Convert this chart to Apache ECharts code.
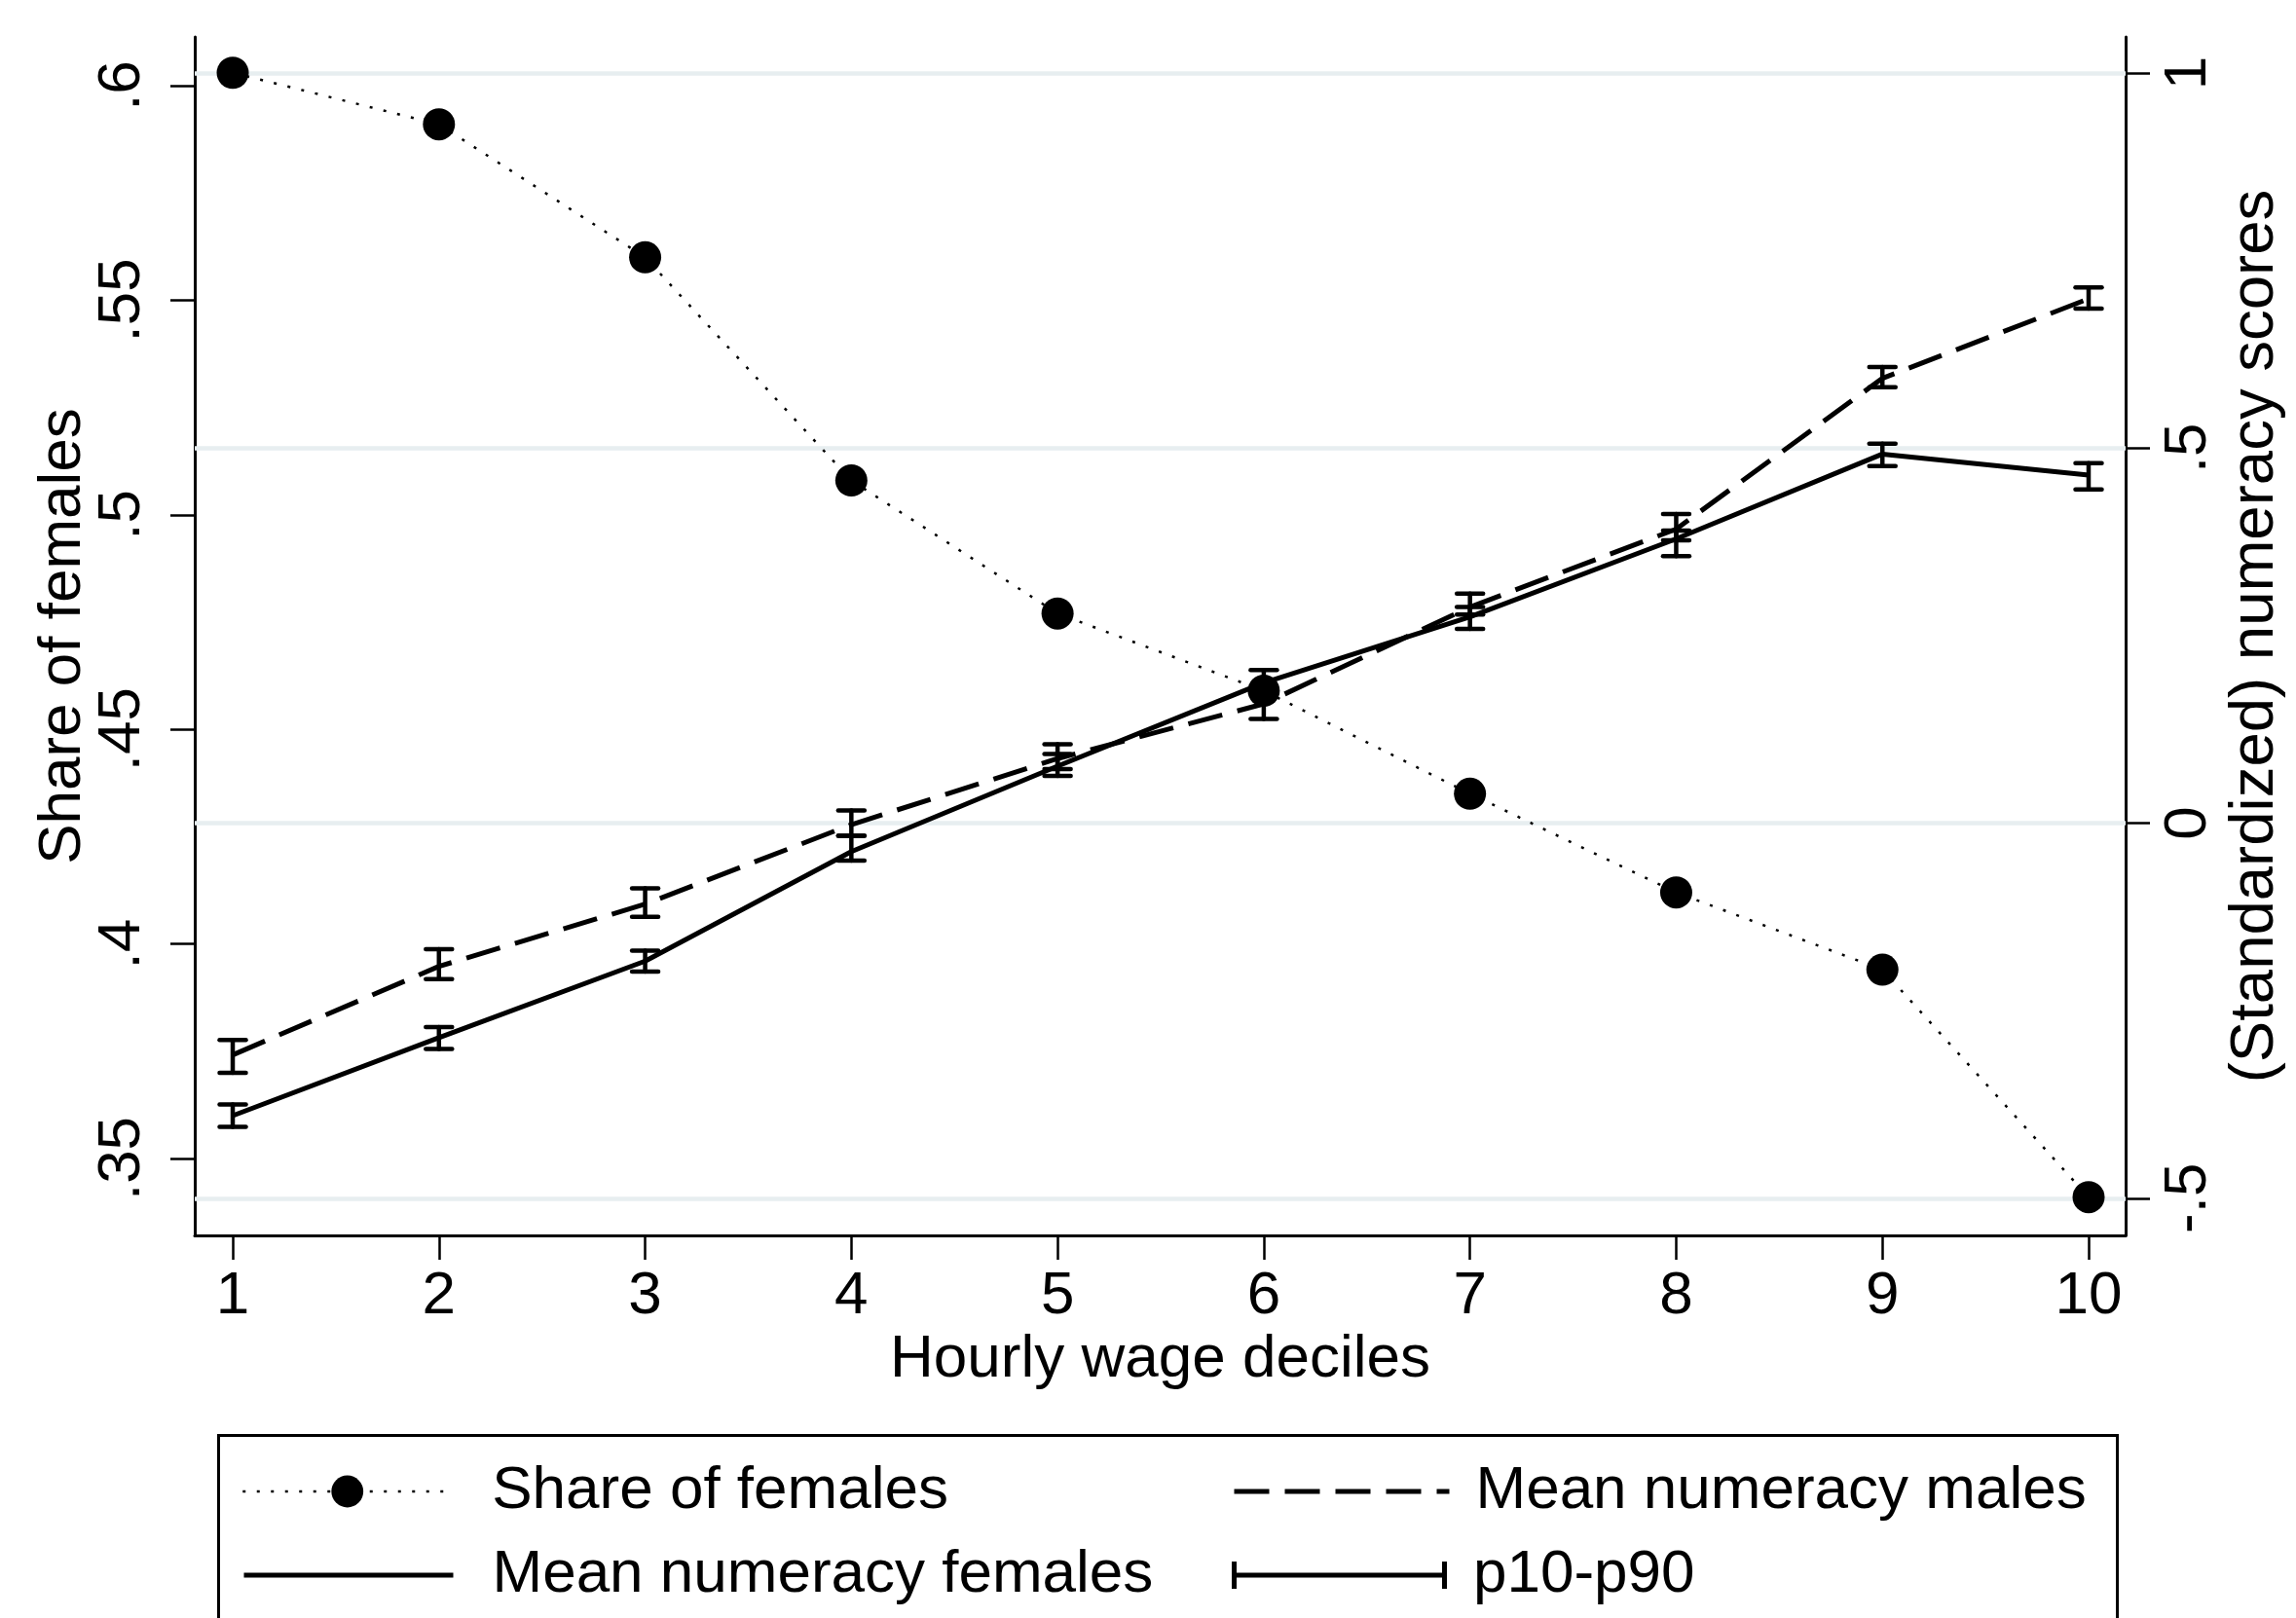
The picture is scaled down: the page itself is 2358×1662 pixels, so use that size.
<!DOCTYPE html>
<html>
<head>
<meta charset="utf-8">
<script src="https://cdn.jsdelivr.net/npm/echarts@6/dist/echarts.min.js"></script>
<style>
  html, body { margin: 0; padding: 0; background: #fff; }
  #chart { width: 2358px; height: 1662px; }
</style>
</head>
<body>
<div id="chart"></div>
<script>
// Hourly wage deciles
const deciles = [1, 2, 3, 4, 5, 6, 7, 8, 9, 10];

// Share of females in each decile (left axis)
const shareFemales = [0.603, 0.591, 0.560, 0.508, 0.477, 0.459, 0.435, 0.412, 0.394, 0.341];

// Standardized numeracy scores (right axis): means and p10/p90 bands
const femMean = [-0.390, -0.286, -0.184, -0.038, 0.076, 0.187, 0.275, 0.379, 0.492, 0.464];
const femP10  = [-0.405, -0.301, -0.198, -0.050, 0.063, 0.173, 0.259, 0.356, 0.476, 0.445];
const femP90  = [-0.375, -0.272, -0.170, -0.017, 0.092, 0.204, 0.288, 0.390, 0.506, 0.480];
const maleMean = [-0.309, -0.191, -0.108, -0.002, 0.086, 0.159, 0.288, 0.392, 0.593, 0.699];
const maleP10  = [-0.333, -0.208, -0.125, -0.017, 0.072, 0.139, 0.278, 0.377, 0.581, 0.686];
const maleP90  = [-0.289, -0.168, -0.087, 0.017, 0.105, 0.179, 0.306, 0.412, 0.608, 0.714];

// Tick labels
const leftTicks = [0.35, 0.40, 0.45, 0.50, 0.55, 0.60];
const rightTicks = [-0.5, 0, 0.5, 1];

const FONT = '"Liberation Sans", Arial, Helvetica, sans-serif';
const FS = 62;

// Stata-style number labels: no leading zero
function dropZero(v) {
  let s = String(Math.round(v * 100) / 100);
  return s.replace(/^0\./, '.').replace(/^-0\./, '-.');
}

const pair = (xs, ys) => xs.map((x, i) => [x, ys[i]]);
const bars = deciles.map((d, i) => [d, femP10[i], femP90[i]])
  .concat(deciles.map((d, i) => [d, maleP10[i], maleP90[i]]));

function renderErrorBar(params, api) {
  const x = api.value(0);
  const lo = api.coord([x, api.value(1)]);
  const hi = api.coord([x, api.value(2)]);
  const hw = 13.5;
  const style = { stroke: '#000', lineWidth: 4.5, lineCap: 'round', fill: null };
  return {
    type: 'group',
    children: [
      { type: 'line', shape: { x1: lo[0], y1: lo[1], x2: hi[0], y2: hi[1] }, style },
      { type: 'line', shape: { x1: lo[0] - hw, y1: lo[1], x2: lo[0] + hw, y2: lo[1] }, style },
      { type: 'line', shape: { x1: hi[0] - hw, y1: hi[1], x2: hi[0] + hw, y2: hi[1] }, style }
    ]
  };
}

const txt = { fontFamily: FONT, fontSize: FS, color: '#000' };
const legendBase = {
  padding: 0, selectedMode: false, orient: 'vertical',
  lineStyle: { width: 'inherit' },
  textStyle: Object.assign({}, txt, { lineHeight: FS })
};

const chart = echarts.init(document.getElementById('chart'), null, { renderer: 'canvas' });

chart.setOption({
  animation: false,
  backgroundColor: '#fff',
  grid: { left: 200, right: 175, top: 38, bottom: 393, containLabel: false },
  xAxis: {
    type: 'value', min: 0.8158, max: 10.1794,
    axisLine: { show: true, onZero: false, lineStyle: { color: '#000', width: 3 } },
    axisTick: { show: true, length: 25, customValues: deciles, lineStyle: { color: '#000', width: 2.5 } },
    axisLabel: Object.assign({ customValues: deciles, margin: 32 }, txt),
    splitLine: { show: false },
    name: 'Hourly wage deciles', nameLocation: 'middle', nameGap: 97,
    nameMoveOverlap: false,
    nameTextStyle: txt
  },
  yAxis: [
    {
      type: 'value', position: 'left', min: 0.332078, max: 0.611343,
      axisLine: { show: true, onZero: false, lineStyle: { color: '#000', width: 3 } },
      axisTick: { show: true, length: 25, customValues: leftTicks, lineStyle: { color: '#000', width: 2.5 } },
      axisLabel: Object.assign({ customValues: leftTicks, rotate: 90, margin: 43, formatter: dropZero }, txt),
      splitLine: { show: false },
      name: 'Share of females', nameLocation: 'middle', nameGap: 104,
      nameMoveOverlap: false,
      nameTextStyle: txt
    },
    {
      type: 'value', position: 'right', min: -0.54964, max: 1.04802,
      axisLine: { show: true, onZero: false, lineStyle: { color: '#000', width: 3 } },
      axisTick: { show: true, length: 25, customValues: rightTicks, lineStyle: { color: '#000', width: 2.5 } },
      axisLabel: Object.assign({ customValues: rightTicks, rotate: 90, margin: 34, formatter: dropZero }, txt),
      splitLine: { show: false },
      name: '(Standardized) numeracy scores', nameLocation: 'middle', nameGap: 101,
      nameMoveOverlap: false,
      nameTextStyle: Object.assign({}, txt, { fontSize: 63.5 })
    }
  ],
  legend: [
    Object.assign({}, legendBase, {
      left: 248, top: 1501, itemWidth: 215, itemHeight: 41,
      data: [{ name: 'Share of females' }],
      textStyle: Object.assign({}, legendBase.textStyle, { padding: [0, 0, 0, 36] })
    }),
    Object.assign({}, legendBase, {
      left: 1265, top: 1501, itemWidth: 221, itemHeight: 41,
      data: [{ name: 'Mean numeracy males', itemStyle: { opacity: 0 } }],
      textStyle: Object.assign({}, legendBase.textStyle, { padding: [0, 0, 0, 22] })
    }),
    Object.assign({}, legendBase, {
      left: 248, top: 1587, itemWidth: 215, itemHeight: 41,
      data: [{ name: 'Mean numeracy females', itemStyle: { opacity: 0 } }],
      textStyle: Object.assign({}, legendBase.textStyle, { padding: [0, 0, 0, 35] })
    }),
    Object.assign({}, legendBase, {
      left: 1265, top: 1587, itemWidth: 221, itemHeight: 28,
      data: [{ name: 'p10-p90', icon: 'path://M0,0H5V28H0Z M0,11.5H221V16.5H0Z M216,0H221V28H216Z' }],
      textStyle: Object.assign({}, legendBase.textStyle, { padding: [0, 0, 0, 22] })
    })
  ],
  graphic: [
    {
      type: 'rect', left: 222, top: 1472, silent: true,
      shape: { width: 1950, height: 260 },
      style: { fill: null, stroke: '#000', lineWidth: 3 }
    }
  ],
  series: [
    {
      name: 'p10-p90', type: 'custom', xAxisIndex: 0, yAxisIndex: 1,
      renderItem: renderErrorBar, encode: { x: 0, y: [1, 2] },
      itemStyle: { color: '#000' }, data: bars, z: 3
    },
    {
      name: 'Mean numeracy females', type: 'line', xAxisIndex: 0, yAxisIndex: 1,
      data: pair(deciles, femMean), symbol: 'none', color: '#000',
      lineStyle: { color: '#000', width: 5, type: 'solid' }, z: 3,
      markLine: {
        silent: true, symbol: ['none', 'none'], z: 1, animation: false,
        label: { show: false }, emphasis: { disabled: true },
        lineStyle: { color: '#e7eef0', width: 4.5, type: 'solid' },
        data: rightTicks.map(v => ({ yAxis: v }))
      }
    },
    {
      name: 'Mean numeracy males', type: 'line', xAxisIndex: 0, yAxisIndex: 1,
      data: pair(deciles, maleMean), symbol: 'none', color: '#000',
      lineStyle: { color: '#000', width: 5, type: [36, 16] }, z: 3
    },
    {
      name: 'Share of females', type: 'line', xAxisIndex: 0, yAxisIndex: 0,
      data: pair(deciles, shareFemales), symbol: 'circle', symbolSize: 33, color: '#000',
      itemStyle: { color: '#000', borderWidth: 0 },
      lineStyle: { color: '#000', width: 2.5, type: [3, 11.5] }, z: 4
    }
  ]
});
</script>
</body>
</html>
